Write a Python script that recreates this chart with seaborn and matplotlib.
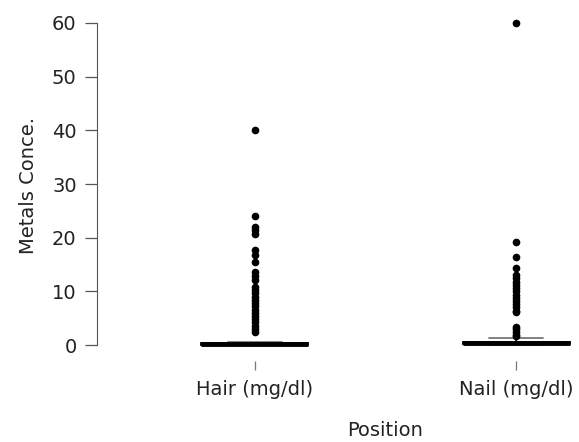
import numpy as np
import pandas as pd
import matplotlib
matplotlib.use("Agg")
import matplotlib.pyplot as plt
import seaborn as sns

positions = ["Hair (mg/dl)", "Nail (mg/dl)"]

# bulk of the values sits near zero, kept as a value / count table
hair_bulk_values = [0.0, 0.05, 0.1, 0.15, 0.2, 0.3, 0.4, 0.5, 0.6]
hair_bulk_counts = [20, 20, 15, 15, 10, 10, 5, 3, 2]
hair_outliers = [40.0, 24.1, 22.0, 21.5, 20.6, 17.7, 16.8, 15.5, 13.6, 12.8, 12.1,
                 10.8, 10.2, 9.6, 9.0, 8.4, 7.8, 7.2, 6.6, 6.0, 5.4, 4.8, 4.2,
                 3.6, 3.0, 2.4]

nail_bulk_values = [0.0, 0.1, 0.2, 0.3, 0.4, 0.5, 0.6, 0.9, 1.3]
nail_bulk_counts = [25, 15, 15, 10, 10, 10, 10, 3, 2]
nail_outliers = [60.0, 19.2, 16.4, 14.3, 13.0, 12.4, 11.8, 11.2, 10.6, 10.0, 9.4,
                 8.8, 8.2, 7.6, 7.0, 6.4, 6.1, 3.4, 2.9, 2.4, 1.9, 1.6]

groups = [
    (positions[0], hair_bulk_values, hair_bulk_counts, hair_outliers),
    (positions[1], nail_bulk_values, nail_bulk_counts, nail_outliers),
]
frames = []
for name, vals, cnts, outs in groups:
    v = list(np.repeat(vals, cnts)) + outs
    frames.append(pd.DataFrame({"Position": name, "Metals Conce.": v}))
df = pd.concat(frames, ignore_index=True)

sns.set_style("white")
plt.rcParams["font.family"] = ["DejaVu Sans"]

W, H = 579, 442
fig = plt.figure(figsize=(W / 100, H / 100), dpi=100)
ax = fig.add_axes([97 / W, (H - 361) / H, (W - 97) / W, (361 - 15) / H])

sns.boxplot(data=df, x="Position", y="Metals Conce.", order=positions,
            width=0.41, color="white", linecolor="black", linewidth=1.3,
            flierprops=dict(marker="o", markerfacecolor="black",
                            markeredgecolor="black", markersize=4.5),
            medianprops=dict(linewidth=3.5, color="black"),
            whiskerprops=dict(linestyle="--"),
            capprops=dict(color="#777777"),
            ax=ax)

ax.set_xlim(-0.605, 1.241)
ax.set_ylim(-2.98, 61.49)
ax.set_yticks(range(0, 61, 10))
ax.set_xlabel("")
ax.set_ylabel("")
for s in ["top", "right", "bottom"]:
    ax.spines[s].set_visible(False)
ax.spines["left"].set_bounds(0, 60)
ax.spines["left"].set_color("#555555")
ax.tick_params(axis="y", length=8.6, width=0.9, pad=6, color="#555555",
               labelsize=14, labelcolor="#222222", left=True)
ax.tick_params(axis="x", length=6.5, width=0.9, pad=7, color="#777777",
               labelsize=14, labelcolor="#222222", bottom=True)

fig.text(28 / W, 1 - 185 / H, "Metals Conce.", rotation=90, ha="center",
         va="center", fontsize=14, color="#222222")
fig.text(385 / W, 1 - 431 / H, "Position", ha="center", va="center",
         fontsize=14, color="#222222")

fig.savefig("out.png", dpi=100)
